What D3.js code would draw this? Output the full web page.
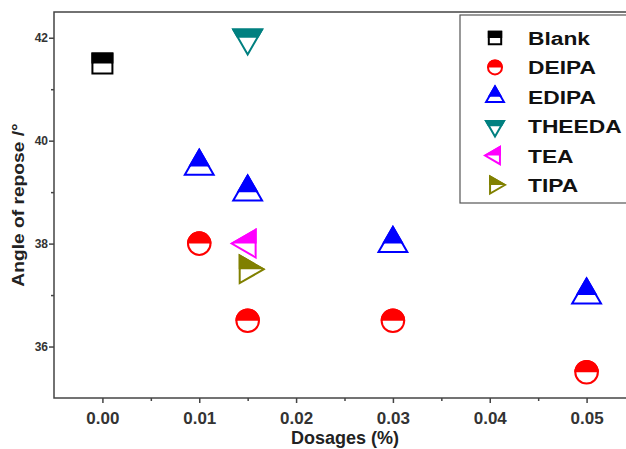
<!DOCTYPE html>
<html>
<head>
<meta charset="utf-8">
<script src="https://cdn.jsdelivr.net/npm/d3@7"></script>
<style>
body{margin:0;background:#fff;}
text{font-family:Arial,"Liberation Sans",sans-serif;font-weight:bold;}
</style>
</head>
<body>
<script>
// values
var seriesNames = ["Blank","DEIPA","EDIPA","THEEDA","TEA","TIPA"]
var seriesColors = ["#000000","#ff0000","#0000ff","#008080","#ff00ff","#808000"]
var blankX = [0], blankY = [41.5]
var deipaX = [0.01, 0.015, 0.03, 0.05], deipaY = [38, 36.5, 36.5, 35.5]
var edipaX = [0.01, 0.015, 0.03, 0.05], edipaY = [39.5, 39, 38, 37]
var theedaX = [0.015], theedaY = [42]
var teaX = [0.015], teaY = [38]
var tipaX = [0.015], tipaY = [37.5]
var xTicks = [0, 0.01, 0.02, 0.03, 0.04, 0.05]
var xMinor = [0.005, 0.015, 0.025, 0.035, 0.045]
var yTicks = [36, 38, 40, 42]
var yMinor = [37, 39, 41]
var xLabel = "Dosages (%)", yLabel = "Angle of repose /°"

var screen = {width: 626, height: 449}
var m = {left: 54, top: 12, bottom: 51}

var svg = d3.select("body").append("svg")
  .attr("width", screen.width).attr("height", screen.height)

var x = d3.scaleLinear().domain([-0.005, 0.055]).range([m.left, m.left + 581])
var y = d3.scaleLinear().domain([35, 42.5]).range([screen.height - m.bottom, m.top])

var defs = svg.append("defs")
defs.append("clipPath").attr("id", "tophalf")
  .append("rect").attr("x", -30).attr("y", -30).attr("width", 60).attr("height", 30)

// shape paths centred on 0,0 ; rotate for left / right triangles
var shapes = {
  Blank: {type: d3.symbolSquare, rot: 0},
  DEIPA: {type: d3.symbolCircle, rot: 0},
  EDIPA: {type: d3.symbolTriangle, rot: 0},
  THEEDA: {type: d3.symbolTriangle, rot: 180},
  TEA: {type: d3.symbolTriangle, rot: -90},
  TIPA: {type: d3.symbolTriangle, rot: 90}
}
var sizes = {Blank: 400, DEIPA: 400, EDIPA: 360, THEEDA: 360, TEA: 330, TIPA: 330}

var marker = function(g, name, color, scale)
{
  var s = shapes[name]
  var p = d3.symbol().type(s.type).size(sizes[name] * scale * scale)()
  g.append("path").attr("d", p).attr("transform", "rotate(" + s.rot + ")")
    .attr("fill", "#fff").attr("stroke", color).attr("stroke-width", 2)
  g.append("g").attr("clip-path", "url(#tophalf)")
    .append("path").attr("d", p).attr("transform", "rotate(" + s.rot + ")")
    .attr("fill", color).attr("stroke", color).attr("stroke-width", 2)
}

// frame
var plot = svg.append("g")
plot.append("rect")
  .attr("x", x(-0.005)).attr("y", y(42.5))
  .attr("width", x(0.055) - x(-0.005)).attr("height", y(35) - y(42.5))
  .attr("fill", "none").attr("stroke", "#444").attr("stroke-width", 1.5)

var xAxis = svg.append("g").attr("transform", "translate(0," + y(35) + ")")
  .call(d3.axisBottom(x).tickValues(xTicks).tickFormat(d3.format(".2f")).tickSize(5).tickSizeOuter(0))
xAxis.select(".domain").remove()
xAxis.selectAll(".tick line").attr("stroke", "#444").attr("stroke-width", 1.5)
xAxis.selectAll(".tick text").attr("font-size", 17).attr("fill", "#333").attr("dy", "1.05em")
svg.append("g").attr("transform", "translate(0," + y(35) + ")")
  .call(d3.axisBottom(x).tickValues(xMinor).tickFormat("").tickSize(3).tickSizeOuter(0))
  .call(function(g){ g.select(".domain").remove(); g.selectAll("line").attr("stroke", "#444").attr("stroke-width", 1.5) })

var yAxis = svg.append("g").attr("transform", "translate(" + x(-0.005) + ",0)")
  .call(d3.axisLeft(y).tickValues(yTicks).tickSize(5).tickPadding(1).tickSizeOuter(0))
yAxis.select(".domain").remove()
yAxis.selectAll(".tick line").attr("stroke", "#444").attr("stroke-width", 1.5)
yAxis.selectAll(".tick text").attr("font-size", 12).attr("fill", "#333")
svg.append("g").attr("transform", "translate(" + x(-0.005) + ",0)")
  .call(d3.axisLeft(y).tickValues(yMinor).tickFormat("").tickSize(3).tickSizeOuter(0))
  .call(function(g){ g.select(".domain").remove(); g.selectAll("line").attr("stroke", "#444").attr("stroke-width", 1.5) })

svg.append("text").attr("x", 345).attr("y", 444).attr("text-anchor", "middle")
  .attr("font-size", 18).attr("fill", "#222").text(xLabel)
svg.append("text").attr("transform", "translate(24," + (y(35) + y(42.5)) / 2 + ") rotate(-90) scale(1.2,1)")
  .attr("text-anchor", "middle").attr("font-size", 16).attr("fill", "#222").text(yLabel)

// points
var allData = [
  {name: "Blank", xs: blankX, ys: blankY},
  {name: "DEIPA", xs: deipaX, ys: deipaY},
  {name: "EDIPA", xs: edipaX, ys: edipaY},
  {name: "THEEDA", xs: theedaX, ys: theedaY},
  {name: "TEA", xs: teaX, ys: teaY},
  {name: "TIPA", xs: tipaX, ys: tipaY}
]
allData.forEach(function(s, i)
{
  s.xs.forEach(function(v, j)
  {
    var g = svg.append("g").attr("transform", "translate(" + x(v) + "," + y(s.ys[j]) + ")")
    marker(g, s.name, seriesColors[i], 1)
  })
})

// legend
var legend = svg.append("g").attr("class", "legend")
legend.append("rect").attr("x", 460).attr("y", 15).attr("width", 200).attr("height", 188)
  .attr("fill", "#fff").attr("stroke", "#555").attr("stroke-width", 1.2)
seriesNames.forEach(function(name, i)
{
  var ly = 38 + i * 29.4
  var g = legend.append("g").attr("transform", "translate(495," + ly + ")")
  marker(g, name, seriesColors[i], 0.62)
  legend.append("text").attr("transform", "translate(528," + (ly + 7) + ") scale(1.2,1)")
    .attr("font-size", 19).attr("fill", "#111").text(name)
})
</script>
</body>
</html>
